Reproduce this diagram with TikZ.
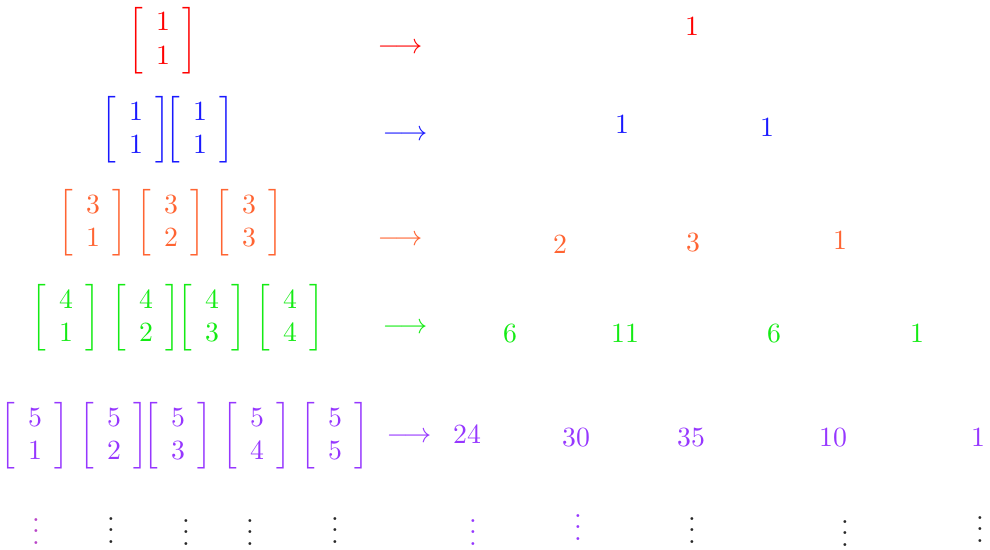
\documentclass[tikz,border=0pt]{standalone}
\usepackage{amsmath}
\definecolor{cred}{RGB}{255,0,0}
\definecolor{cblue}{RGB}{25,25,255}
\definecolor{corange}{RGB}{255,100,50}
\definecolor{cgreen}{RGB}{20,235,20}
\definecolor{cpurple}{RGB}{150,55,255}
\definecolor{cmag}{RGB}{185,70,200}
\definecolor{cdots}{RGB}{40,40,40}
\setlength{\arraycolsep}{4.5pt}
\newcommand{\stir}[2]{$\left[\begin{array}{c}#1\\#2\end{array}\right]$}
\newcommand{\arr}{$\longrightarrow$}
\begin{document}
\begin{tikzpicture}[x=0.36pt,y=-0.36pt,
  lbl/.style={inner sep=0pt,anchor=center},
  vd/.style={inner sep=0pt,anchor=base,text=cdots}]
\useasboundingbox (0,0) rectangle (990,550);
% row 1
\node[lbl,text=cred] (m11) at (163,41) {\stir{1}{1}};
\node[lbl,text=cred] (a1) at (400,48) {\arr};
\node[lbl,text=cred] (v11) at (692,27) {$1$};
% row 2
\node[lbl,text=cblue] (m21) at (136,130) {\stir{1}{1}};
\node[lbl,text=cblue] (m22) at (200,130) {\stir{1}{1}};
\node[lbl,text=cblue] (a2) at (405,135) {\arr};
\node[lbl,text=cblue] (v21) at (622,125) {$1$};
\node[lbl,text=cblue] (v22) at (767,128) {$1$};
% row 3
\node[lbl,text=corange] (m31) at (93,223) {\stir{3}{1}};
\node[lbl,text=corange] (m32) at (171,223) {\stir{3}{2}};
\node[lbl,text=corange] (m33) at (249,223) {\stir{3}{3}};
\node[lbl,text=corange] (a3) at (400,240) {\arr};
\node[lbl,text=corange] (v31) at (560,245) {$2$};
\node[lbl,text=corange] (v32) at (693,243) {$3$};
\node[lbl,text=corange] (v33) at (840,241) {$1$};
% row 4
\node[lbl,text=cgreen] (m41) at (66,318) {\stir{4}{1}};
\node[lbl,text=cgreen] (m42) at (146,318) {\stir{4}{2}};
\node[lbl,text=cgreen] (m43) at (212,318) {\stir{4}{3}};
\node[lbl,text=cgreen] (m44) at (290,318) {\stir{4}{4}};
\node[lbl,text=cgreen] (a4) at (405,328) {\arr};
\node[lbl,text=cgreen] (v41) at (510,334) {$6$};
\node[lbl,text=cgreen] (v42) at (625,334) {$11$};
\node[lbl,text=cgreen] (v43) at (774,334) {$6$};
\node[lbl,text=cgreen] (v44) at (917,334) {$1$};
% row 5
\node[lbl,text=cpurple] (m51) at (35,436) {\stir{5}{1}};
\node[lbl,text=cpurple] (m52) at (114,436) {\stir{5}{2}};
\node[lbl,text=cpurple] (m53) at (178,436) {\stir{5}{3}};
\node[lbl,text=cpurple] (m54) at (257,436) {\stir{5}{4}};
\node[lbl,text=cpurple] (m55) at (335,436) {\stir{5}{5}};
\node[lbl,text=cpurple] (a5) at (409,437) {\arr};
\node[lbl,text=cpurple] (v51) at (467,435) {$24$};
\node[lbl,text=cpurple] (v52) at (576,438) {$30$};
\node[lbl,text=cpurple] (v53) at (691,438) {$35$};
\node[lbl,text=cpurple] (v54) at (833,438) {$10$};
\node[lbl,text=cpurple] (v55) at (978,438) {$1$};
% dots (anchor base = bottom dot)
\node[vd,text=cmag] (d1) at (36,544) {$\vdots$};
\node[vd] (d2) at (111,543) {$\vdots$};
\node[vd] (d3) at (186,545) {$\vdots$};
\node[vd] (d4) at (250,545) {$\vdots$};
\node[vd] (d5) at (335,543) {$\vdots$};
\node[vd,text=cpurple] (d6) at (473,545) {$\vdots$};
\node[vd,text=cpurple] (d7) at (578,540) {$\vdots$};
\node[vd] (d8) at (692,543) {$\vdots$};
\node[vd] (d9) at (845,546) {$\vdots$};
\node[vd] (d10) at (980,542) {$\vdots$};
\end{tikzpicture}
\end{document}
